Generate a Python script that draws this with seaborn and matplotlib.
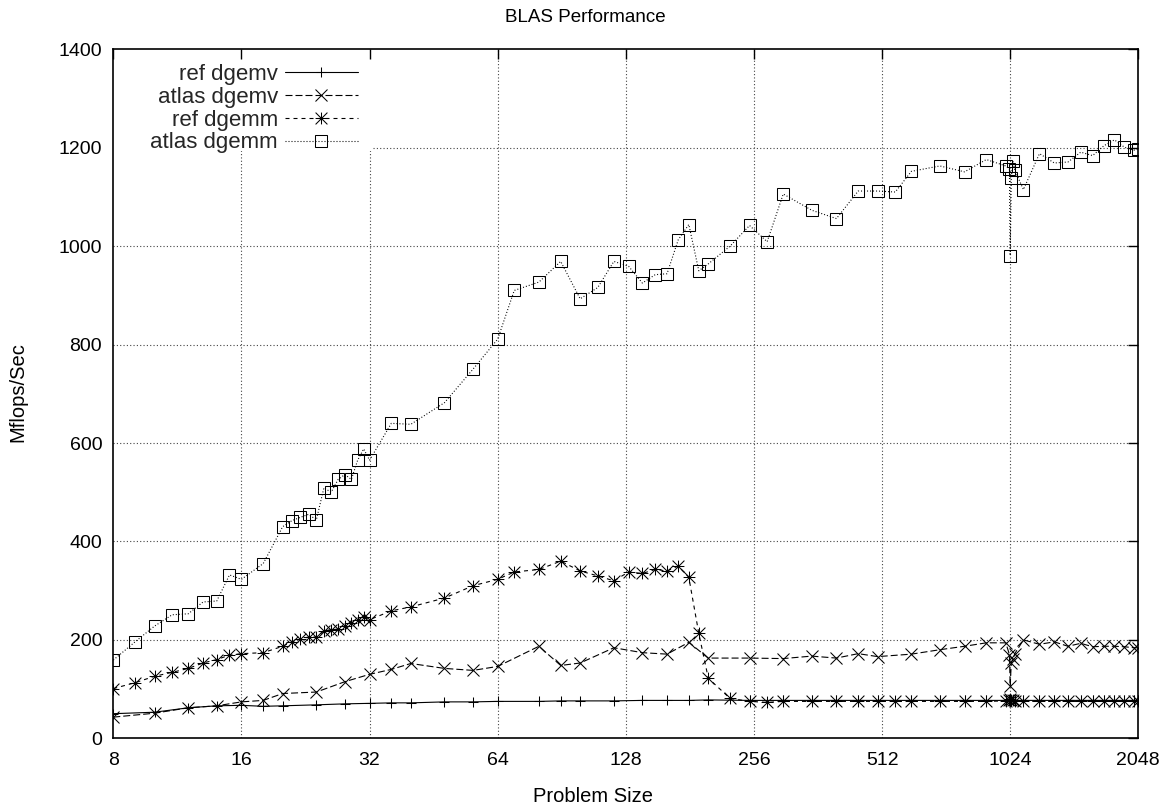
import matplotlib
matplotlib.use("Agg")
import matplotlib.pyplot as plt
import seaborn as sns
from matplotlib.patches import Rectangle
from matplotlib.path import Path

# ---------------- data ----------------
sizes_mm = [8, 9, 10, 11, 12, 13, 14, 15, 16, 18, 20, 21, 22, 23, 24, 25, 26, 27, 28, 29, 30, 31, 32,
            36, 40, 48, 56, 64, 70, 80, 90, 100, 110, 120, 130, 140, 150, 160, 170, 180, 190, 200,
            225, 250, 275, 300, 350, 400, 450, 500, 550, 600, 700, 800, 900, 1000,
            1020, 1024, 1030, 1040, 1050, 1100, 1200, 1300, 1400, 1500, 1600, 1700, 1800, 1900, 2000, 2048]

atlas_dgemm = [159, 196, 228, 251, 253, 277, 279, 332, 323, 355, 430, 442, 449, 455, 444, 509, 500, 526, 536, 526,
               565, 588, 565, 640, 638, 682, 750, 811, 910, 927, 969, 893, 916, 969, 959, 925, 942, 944, 1013,
               1044, 950, 964, 1000, 1042, 1009, 1106, 1073, 1056, 1112, 1112, 1110, 1152, 1163, 1151, 1176,
               1163, 1156, 981, 1139, 1173, 1154, 1115, 1188, 1169, 1171, 1191, 1184, 1204, 1216, 1201, 1195, 1198]

ref_dgemm = [101, 113, 126, 134, 142, 153, 160, 169, 172, 174, 187, 196, 201, 206, 206, 218, 221, 222, 228, 235,
             240, 246, 241, 259, 267, 285, 310, 323, 338, 343, 360, 340, 330, 320, 338, 335, 343, 340, 350,
             327, 213, 122, 81, 75, 73, 75, 75, 75, 75, 75, 75, 75, 75, 75, 75,
             76, 78, 80, 77, 78, 76, 75, 75, 75, 75, 75, 75, 75, 75, 75, 75, 75]

sizes_mv = [8, 10, 12, 14, 16, 18, 20, 24, 28, 32, 36, 40, 48, 56, 64, 80, 90, 100, 120, 140, 160, 180, 200,
            250, 300, 350, 400, 450, 500, 600, 700, 800, 900, 1000, 1020, 1024, 1030, 1040, 1050,
            1100, 1200, 1300, 1400, 1500, 1600, 1700, 1800, 1900, 2000, 2048]

atlas_dgemv = [43, 51, 62, 66, 74, 77, 91, 94, 115, 130, 140, 152, 142, 138, 146, 187, 148, 153, 184, 174, 171,
               195, 163, 163, 162, 167, 163, 172, 166, 171, 180, 187, 194, 194, 170, 106, 152, 162, 172,
               200, 191, 196, 187, 193, 186, 187, 187, 186, 184, 184]

ref_dgemv = [50, 53, 62, 66, 67, 65, 66, 68, 70, 71, 72, 72, 74, 74, 75, 75, 76, 76, 76, 77, 77, 77, 78,
             77, 77, 77, 77, 77, 77, 77, 77, 77, 77, 77, 77, 77, 77, 77, 77,
             77, 77, 77, 77, 77, 77, 77, 77, 77, 77, 77]

x_ticks = [8, 16, 32, 64, 128, 256, 512, 1024, 2048]
y_ticks = [0, 200, 400, 600, 800, 1000, 1200, 1400]

# ---------------- style ----------------
sns.set_theme(style="white")
plt.rcParams["font.family"] = ["Liberation Sans", "DejaVu Sans"]

W, H = 1171, 808
fig = plt.figure(figsize=(W / 100, H / 100), dpi=100)
x0, x1, y0, y1 = 113.3, 1138.3, 49.3, 738.3
ax = fig.add_axes([x0 / W, 1 - y1 / H, (x1 - x0) / W, (y1 - y0) / H])
ax.set_xscale("log", base=2)

FS = 14
LW = 0.8
MEW = 0.75
# gnuplot-style asterisk: plus and cross overlaid
star = Path([(-1, 0), (1, 0), (0, -1), (0, 1), (-1, -1), (1, 1), (-1, 1), (1, -1)],
            [Path.MOVETO, Path.LINETO] * 4)
series = [
    ("ref dgemv", sizes_mv, ref_dgemv, "+", "-", 7.5),
    ("atlas dgemv", sizes_mv, atlas_dgemv, "x", (0, (6.3, 2.7)), 8.5),
    ("ref dgemm", sizes_mm, ref_dgemm, star, (0, (3.6, 3.6)), 8.5),
    ("atlas dgemm", sizes_mm, atlas_dgemm, "s", (0, (0.9, 1.8)), 8),
]
for lab, xs, ys, mk, ls, ms in series:
    sns.lineplot(x=xs, y=ys, ax=ax, color="black", marker=mk, linestyle=ls, linewidth=LW,
                 markersize=ms, markeredgewidth=MEW, markeredgecolor="black",
                 markerfacecolor="none", label=lab, estimator=None, sort=False, zorder=3)

ax.set_xlim(8, 2048)
ax.set_ylim(0, 1400)
ax.set_xticks(x_ticks)
ax.set_xticklabels([str(v) for v in x_ticks])
ax.xaxis.set_minor_locator(matplotlib.ticker.NullLocator())
ax.set_yticks(y_ticks)
ax.set_yticklabels([str(v) for v in y_ticks])

# dotted grid
for xv in x_ticks[1:-1]:
    ax.axvline(xv, color="#444444", linewidth=0.8, linestyle=(0, (1, 2)), zorder=0.5)
for yv in y_ticks[1:-1]:
    ax.axhline(yv, color="#444444", linewidth=0.8, linestyle=(0, (1, 2)), zorder=0.5)

# key area blanks the grid (as in gnuplot)
ax.add_patch(Rectangle((0, (y1 - 150.5) / (y1 - y0)), (371.5 - x0) / (x1 - x0), 1,
                       transform=ax.transAxes, facecolor="white", edgecolor="none", zorder=1))

ax.set_axisbelow(False)
ax.tick_params(axis="both", which="major", direction="in", length=7, width=1.0,
               top=True, right=True, labelsize=FS, colors="black")
ax.tick_params(axis="x", pad=10)
ax.tick_params(axis="y", pad=8)
for sp in ax.spines.values():
    sp.set_color("black")
    sp.set_linewidth(1.2)
    sp.set_visible(True)

# axis labels and title placed like the gnuplot output
fig.text(593 / W, 1 - 796 / H, "Problem Size", fontsize=14.5, color="black",
         ha="center", va="center")
fig.text(18 / W, 1 - 392 / H, "Mflops/Sec", fontsize=14.5, color="black",
         ha="center", va="center", rotation=90)
fig.text(585.5 / W, 1 - 18 / H, "BLAS Performance", fontsize=13.5, color="black",
         ha="center", va="center")

handles, labels = ax.get_legend_handles_labels()
LFS = 16
leg = ax.legend(handles, labels, loc="upper right",
                bbox_to_anchor=((358 - x0) / (x1 - x0), (y1 - 64) / (y1 - y0)),
                bbox_transform=ax.transAxes, frameon=False, markerfirst=False, numpoints=1,
                handlelength=3.3, handletextpad=0.3, labelspacing=0.08, borderpad=0,
                borderaxespad=0, fontsize=LFS)
for vp in leg._legend_handle_box.get_children():
    vp.align = "right"

fig.savefig("out.png", dpi=100, facecolor="white")
